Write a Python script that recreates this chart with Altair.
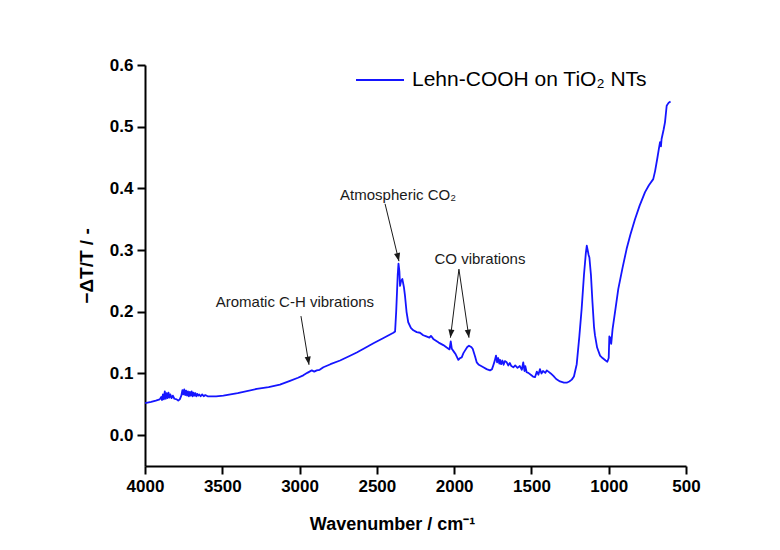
import math
import altair as alt
import pandas as pd

# ---------------- data ----------------
wavenumber = [
    3999, 3960, 3930, 3905, 3895, 3890, 3884, 3878, 3872, 3866, 3860, 3854, 3848, 3842,
    3836, 3828, 3820, 3810, 3795, 3785, 3775, 3765, 3758, 3752, 3746, 3740, 3734, 3728,
    3722, 3716, 3710, 3704, 3698, 3692, 3686, 3680, 3674, 3668, 3662, 3656, 3650, 3640,
    3630, 3620, 3610, 3595, 3579, 3540, 3493,
    3400, 3277, 3200, 3127, 3062, 3010, 2976,
    2950, 2921, 2905, 2889, 2870, 2846, 2800, 2738, 2680, 2630, 2580, 2522, 2460, 2393,
    2382, 2375, 2365, 2360, 2354, 2350, 2343, 2335, 2325, 2318, 2308, 2297, 2280, 2264,
    2242, 2221, 2200, 2180, 2160, 2150, 2135, 2100, 2070, 2048, 2030, 2022, 2015, 2001,
    1990, 1973, 1962, 1951, 1940, 1930, 1915, 1904, 1890, 1880, 1865, 1854, 1840, 1811,
    1790, 1768, 1755, 1747, 1738, 1729, 1722, 1715, 1708, 1703, 1696, 1688, 1680, 1672,
    1660, 1650, 1640, 1630, 1617, 1605, 1590, 1575, 1562, 1553, 1545, 1540, 1531, 1520,
    1500, 1490, 1477, 1465, 1455, 1445, 1435, 1425, 1410, 1401, 1390, 1375, 1358, 1340,
    1315, 1290, 1272, 1255, 1239, 1225, 1207, 1190, 1175, 1160, 1148, 1142, 1136, 1130,
    1125, 1115, 1105, 1095, 1089, 1075, 1056, 1040, 1020, 1009, 1000, 996, 992, 988,
    984, 975, 959, 938, 910, 884, 860, 830, 800, 765, 740, 712, 700, 686,
    675, 668, 662, 658, 645, 636, 625, 612, 600,
]
signal = [
    0.052, 0.054, 0.056, 0.058, 0.062, 0.057, 0.066, 0.058, 0.071, 0.059, 0.068, 0.060, 0.069, 0.061,
    0.066, 0.060, 0.064, 0.059, 0.058, 0.056, 0.058, 0.064, 0.073, 0.066, 0.074, 0.065, 0.072, 0.064,
    0.071, 0.063, 0.070, 0.064, 0.071, 0.063, 0.069, 0.064, 0.068, 0.063, 0.067, 0.064, 0.066, 0.063,
    0.066, 0.063, 0.065, 0.063, 0.063, 0.063, 0.064,
    0.068, 0.075, 0.078, 0.082, 0.088, 0.093, 0.097,
    0.101, 0.105, 0.103, 0.105, 0.106, 0.110, 0.115, 0.121, 0.128, 0.134, 0.141, 0.149, 0.157, 0.166,
    0.168, 0.200, 0.260, 0.278, 0.265, 0.242, 0.250, 0.253, 0.240, 0.226, 0.200, 0.183, 0.174, 0.170,
    0.167, 0.166, 0.162, 0.160, 0.158, 0.161, 0.156, 0.150, 0.146, 0.142, 0.139, 0.152, 0.140, 0.135,
    0.131, 0.122, 0.125, 0.126, 0.133, 0.137, 0.143, 0.145, 0.143, 0.140, 0.128, 0.118, 0.114, 0.110,
    0.107, 0.105, 0.107, 0.113, 0.120, 0.129, 0.118, 0.125, 0.116, 0.122, 0.115, 0.121, 0.114, 0.120,
    0.118, 0.113, 0.117, 0.112, 0.110, 0.113, 0.109, 0.112, 0.106, 0.118, 0.104, 0.112, 0.102, 0.101,
    0.097, 0.095, 0.094, 0.103, 0.098, 0.107, 0.100, 0.104, 0.101, 0.105, 0.103, 0.100, 0.096, 0.091,
    0.087, 0.085, 0.085, 0.087, 0.090, 0.095, 0.115, 0.160, 0.205, 0.260, 0.295, 0.307, 0.300, 0.292,
    0.288, 0.260, 0.215, 0.175, 0.162, 0.142, 0.129, 0.125, 0.121, 0.119, 0.125, 0.160, 0.150, 0.158,
    0.148, 0.172, 0.200, 0.237, 0.272, 0.302, 0.325, 0.350, 0.372, 0.394, 0.405, 0.415, 0.428, 0.448,
    0.465, 0.475, 0.468, 0.480, 0.495, 0.507, 0.534, 0.539, 0.541,
]
series_name = "Lehn-COOH on TiO\u2082 NTs"

ann_text = ["Aromatic C-H vibrations", "Atmospheric CO\u2082", "CO vibrations"]
ann_x = [3030, 2363, 1833]
ann_y = [0.216, 0.389, 0.286]

arrow_x1 = [2991, 2447, 1969, 1969]
arrow_y1 = [0.193, 0.375, 0.269, 0.269]
arrow_x2 = [2939, 2357, 2024, 1904]
arrow_y2 = [0.114, 0.282, 0.158, 0.158]

x_ticks = list(range(500, 4001, 250))
y_ticks = [round(i * 0.05, 2) for i in range(0, 13)]

# ---------------- layout ----------------
X_MIN, X_MAX = 500, 4000
Y_MIN, Y_MAX = -0.05, 0.6
W, H = 541, 401
PAD = {"left": 145, "top": 65, "right": 780 - 145 - W, "bottom": 550 - 65 - H}

FONT = "Liberation Sans"
LINE_COLOR = "#1515ff"
INK = "#1a1a1a"

# arrow-head angles computed in screen space from the scales
px_x = W / (X_MAX - X_MIN)
px_y = H / (Y_MAX - Y_MIN)
angles = []
for a, b, c, d in zip(arrow_x1, arrow_y1, arrow_x2, arrow_y2):
    dx = -(c - a) * px_x  # reversed x scale
    dy = -(d - b) * px_y  # screen y grows downward
    angles.append(math.degrees(math.atan2(-dx, dy)) % 360)

spec_df = pd.DataFrame({"wn": wavenumber, "val": signal, "series": series_name})
ann_df = pd.DataFrame({"x": ann_x, "y": ann_y, "label": ann_text})
arr_df = pd.DataFrame({"x1": arrow_x1, "y1": arrow_y1, "x2": arrow_x2, "y2": arrow_y2, "ang": angles})

x_scale = alt.Scale(domain=[X_MIN, X_MAX], reverse=True, nice=False, zero=False)
y_scale = alt.Scale(domain=[Y_MIN, Y_MAX], nice=False, zero=False)

x_major = "datum.value % 500 === 0"
y_major = "abs(datum.value * 10 - round(datum.value * 10)) < 0.0001"

x_axis = alt.Axis(
    title="Wavenumber / cm\u207b\u00b9",
    values=x_ticks,
    format="d",
    labelExpr=f"{x_major} ? datum.label : ''",
    tickSize={"condition": {"test": x_major, "value": 8}, "value": 4},
    titleX=247,
    titleY=63,
    titleAlign="center",
    titleBaseline="alphabetic",
    titleFontSize=18,
)
y_axis = alt.Axis(
    title="\u2212\u0394T/T / -",
    values=y_ticks,
    format=".1f",
    labelExpr=f"{y_major} ? datum.label : ''",
    tickSize={"condition": {"test": y_major, "value": 8}, "value": 4},
    titlePadding=13,
    titleFontSize=19,
)

line = alt.Chart(spec_df).mark_line(strokeWidth=1.8, strokeJoin="round").encode(
    x=alt.X("wn:Q", scale=x_scale, axis=x_axis),
    y=alt.Y("val:Q", scale=y_scale, axis=y_axis),
    color=alt.Color(
        "series:N",
        scale=alt.Scale(domain=[series_name], range=[LINE_COLOR]),
        legend=alt.Legend(
            orient="none",
            legendX=210,
            legendY=-10,
            title=None,
            symbolType="stroke",
            symbolSize=2304,
            symbolStrokeWidth=2,
            labelFont=FONT,
            labelFontSize=21,
            labelColor="black",
            labelOffset=7,
            labelLimit=0,
        ),
    ),
)

arrows = alt.Chart(arr_df).mark_rule(color=INK, strokeWidth=1).encode(
    x="x1:Q", y="y1:Q", x2="x2:Q", y2="y2:Q"
)

heads = alt.Chart(arr_df).mark_point(
    shape="M0,0 L-0.38,-1 L0.38,-1 Z", filled=True, color=INK, size=260, opacity=1
).encode(x="x2:Q", y="y2:Q", angle=alt.Angle("ang:Q", scale=None))

labels = alt.Chart(ann_df).mark_text(
    font=FONT, fontSize=15, color=INK, baseline="middle", align="center"
).encode(x="x:Q", y="y:Q", text="label:N")

chart = (
    alt.layer(line, arrows, heads, labels)
    .properties(width=W, height=H, autosize=alt.AutoSizeParams(type="none"), padding=PAD, background="white")
    .configure_view(strokeWidth=0)
    .configure_axis(
        grid=False,
        domainColor="black",
        domainWidth=2,
        tickColor="black",
        tickWidth=2,
        labelFont=FONT,
        labelFontSize=17,
        labelFontWeight="bold",
        labelColor="black",
        labelPadding=4,
        labelFlush=False,
        titleFont=FONT,
        titleFontWeight="bold",
        titleColor="black",
    )
)

chart.save("out.html", embed_options={"renderer": "svg", "actions": False})
